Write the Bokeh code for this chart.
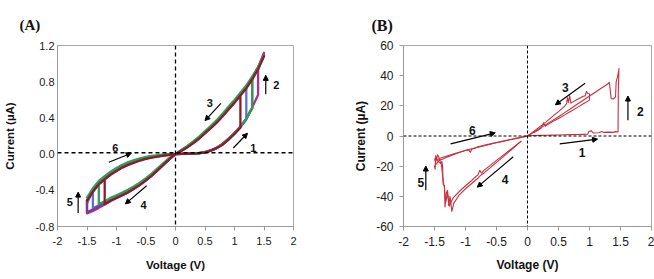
from bokeh.plotting import figure
from bokeh.models import Span, Arrow, NormalHead, Label, FixedTicker, Range1d
from bokeh.layouts import row
from bokeh.embed import file_html
from bokeh.resources import INLINE

# ---------------- Panel (A) data: voltage sweep grids ----------------
V_POS = [0.0, 0.1, 0.2, 0.3, 0.4, 0.5, 0.6, 0.7, 0.8, 0.9, 1.0, 1.1, 1.2, 1.3, 1.4, 1.5]
V_NEG = [0.0, -0.1, -0.2, -0.3, -0.4, -0.5, -0.6, -0.7, -0.8, -0.9, -1.0, -1.1, -1.2, -1.3, -1.4, -1.5]

# cycle 1 (magenta)
c1_hrs_pos = [0, .003, .004, .008, .011, .022, .043, .072, .115, .172, .236, .305, .392, .515, .655]
c1_lrs_pos = [0, .042, .085, .132, .186, .243, .305, .366, .437, .512, .588, .664, .748, .846, .958, 1.12]
c1_lrs_neg = [0, -.055, -.115, -.178, -.236, -.290, -.338, -.382, -.421, -.455, -.486, -.518, -.556, -.594, -.628, -.655]
c1_hrs_neg = [0, -.007, -.014, -.024, -.034, -.047, -.066, -.088, -.113, -.143, -.183, -.224, -.276, -.330, -.415, -.520]
# cycle 2 (blue)
c2_hrs_pos = [0, .002, .005, .006, .010, .019, .040, .068, .108, .165, .226, .296, .383]
c2_lrs_pos = [0, .038, .078, .127, .178, .236, .296, .357, .428, .505, .578, .655, .736, .838, .945, 1.09]
c2_lrs_neg = [0, -.048, -.107, -.168, -.226, -.278, -.326, -.368, -.405, -.436, -.466, -.496, -.532, -.566, -.598]
c2_hrs_neg = [0, -.006, -.013, -.022, -.032, -.045, -.062, -.084, -.108, -.138, -.176, -.216, -.268, -.318, -.398, -.545]
# cycle 3 (purple)
c3_hrs_pos = [0, .002, .003, .007, .012, .021, .038, .069, .112, .168, .232, .300, .390, .505]
c3_lrs_pos = [0, .041, .082, .130, .182, .240, .302, .362, .432, .510, .583, .660, .742, .842, .952, 1.10]
c3_lrs_neg = [0, -.052, -.111, -.172, -.232, -.284, -.332, -.373, -.412, -.446, -.476, -.506, -.545, -.580, -.612, -.640]
c3_hrs_neg = [0, -.006, -.013, -.023, -.033, -.046, -.064, -.086, -.110, -.140, -.180, -.220, -.272, -.324, -.406, -.512]
# cycle 4 (green)
c4_hrs_pos = [0, .002, .004, .006, .010, .020, .040, .070, .110, .170, .230, .300, .390, .510]
c4_lrs_pos = [0, .045, .090, .140, .193, .253, .313, .375, .447, .526, .598, .677, .757, .856, .962, 1.09]
c4_lrs_neg = [0, -.040, -.098, -.156, -.214, -.265, -.313, -.354, -.392, -.424, -.454, -.484, -.522, -.552]
c4_hrs_neg = [0, -.001, -.004, -.011, -.019, -.030, -.046, -.066, -.089, -.117, -.154, -.194, -.244, -.296, -.378, -.480]
# cycle 5 (dark red)
c5_hrs_pos = [0, .002, .004, .005, .009, .018, .038, .066, .104, .160, .222, .292]
c5_lrs_pos = [0, .036, .074, .120, .170, .228, .287, .348, .418, .494, .566, .648, .726, .826, .936, 1.08]
c5_lrs_neg = [0, -.054, -.116, -.177, -.238, -.291, -.340, -.381, -.421, -.454, -.485, -.515, -.553]
c5_hrs_neg = [0, -.008, -.016, -.027, -.038, -.052, -.071, -.094, -.119, -.149, -.188, -.228, -.280, -.334, -.416, -.515]

A_CYCLES = [
    (c1_hrs_pos, c1_lrs_pos, c1_lrs_neg, c1_hrs_neg, "#B02D90"),
    (c2_hrs_pos, c2_lrs_pos, c2_lrs_neg, c2_hrs_neg, "#5B72CC"),
    (c3_hrs_pos, c3_lrs_pos, c3_lrs_neg, c3_hrs_neg, "#7D3C9C"),
    (c4_hrs_pos, c4_lrs_pos, c4_lrs_neg, c4_hrs_neg, "#2F9E55"),
    (c5_hrs_pos, c5_lrs_pos, c5_lrs_neg, c5_hrs_neg, "#8E1B2C"),
]

A_XTICKS = [-2, -1.5, -1, -0.5, 0, 0.5, 1, 1.5, 2]
A_XLABELS = ["-2", "-1.5", "-1", "-0.5", "0", "0.5", "1", "1.5", "2"]
A_YTICKS = [-0.8, -0.4, 0.0, 0.4, 0.8, 1.2]
A_YLABELS = ["-0.8", "-0.4", "0.0", "0.4", "0.8", "1.2"]

# ---------------- Panel (B) data ----------------
b1_v = [0, 0.1, 0.2, 0.3, 0.4, 0.5, 0.6, 0.7, 0.8, 0.9, 0.97, 0.99, 1.03, 1.06, 1.15, 1.2, 1.23, 1.3, 1.38, 1.42,
        1.46, 1.465, 1.475, 1.47, 1.45, 1.43, 1.42, 1.39, 1.35, 1.335, 1.32, 1.30, 1.27, 1.2, 1.1, 1.0, 0.9, 0.8,
        0.7, 0.6, 0.5, 0.4, 0.3, 0.2, 0.1, 0.0]
b1_i = [0, 0.3, 0.4, 0.5, 0.6, 0.7, 0.8, 0.9, 1.0, 1.1, 1.2, 3.2, 3.4, 2.0, 2.2, 3.0, 2.4, 2.6, 2.4, 2.9,
        2.7, 30, 44.8, 43, 39, 36, 26, 24.6, 24.8, 30, 35.6, 34.8, 33.8, 32, 29.2, 26.5, 23.7, 21,
        18.2, 15.5, 12.8, 10.2, 7.7, 5.1, 2.5, 0]
b2_v = [-0.1, -0.2, -0.3, -0.4, -0.5, -0.6, -0.7, -0.76, -0.8, -0.9, -1.0, -1.1, -1.19, -1.22, -1.25, -1.27,
        -1.29, -1.31, -1.33, -1.34, -1.36, -1.37, -1.38, -1.40, -1.43, -1.45, -1.47, -1.48, -1.49, -1.50, -1.46,
        -1.42, -1.38, -1.3, -1.2, -1.1, -1.0, -0.9, -0.8, -0.7, -0.6, -0.5, -0.4, -0.3, -0.2, -0.1, 0]
b2_i = [-3.4, -7, -10.5, -14, -17.5, -21, -24.5, -26.3, -28, -31.5, -35, -39, -44.7, -50, -40, -46,
        -36, -38, -47, -33, -32, -20, -17, -18, -14, -12.5, -16, -13, -22, -20, -18,
        -16, -15.5, -14, -12.5, -11, -9.5, -8.5, -7.5, -6.5, -5.5, -4.5, -3.6, -2.7, -1.8, -0.9, 0]
b3_v = [0.1, 0.16, 0.22, 0.26, 0.29, 0.3, 0.4, 0.5, 0.6, 0.7, 0.8, 0.9, 1.0, 1.0, 0.97, 0.95, 0.93, 0.9, 0.8,
        0.7, 0.68, 0.66, 0.645, 0.63, 0.6, 0.5, 0.4, 0.3, 0.2, 0.1, 0]
b3_i = [2.2, 3.6, 5.2, 8.8, 6.5, 7.0, 9.4, 11.6, 14, 16.4, 18.8, 21.4, 23.8, 28, 28.2, 29.6, 26.6, 26.4, 24.2,
        21.8, 26.8, 22.2, 25.4, 21.4, 19.8, 16.2, 12.8, 9.4, 6.2, 3.1, 0]
b4_v = [-0.1, -0.2, -0.3, -0.4, -0.5, -0.6, -0.7, -0.74, -0.77, -0.8, -0.85, -0.9, -1.0, -1.1, -1.2, -1.26,
        -1.29, -1.32, -1.34, -1.36, -1.39, -1.44, -1.48, -1.5, -1.45, -1.4, -1.3, -1.2, -1.1, -1.0, -0.95,
        -0.92, -0.9, -0.85, -0.8, -0.7, -0.6, -0.5, -0.4, -0.3, -0.2, -0.1, 0]
b4_i = [-3.2, -6.5, -9.8, -13, -16.2, -19.5, -22.6, -24.6, -22.8, -25.8, -27.5, -29.5, -33, -36.8, -41, -46.5,
        -38, -44, -34, -30, -18.5, -17, -14, -16, -15.5, -14.6, -13.2, -12, -10.8, -9.6, -9.2,
        -10.8, -8.6, -8.2, -7.2, -6.2, -5.2, -4.3, -3.4, -2.5, -1.6, -0.8, 0]
B_SEGMENTS = [(b1_v, b1_i), (b2_v, b2_i), (b3_v, b3_i), (b4_v, b4_i)]

B_XTICKS = [-2, -1.5, -1, -0.5, 0, 0.5, 1, 1.5, 2]
B_XLABELS = ["-2", "-1.5", "-1", "-0.5", "0", "0.5", "1", "1.5", "2"]
B_YTICKS = [-60, -40, -20, 0, 20, 40, 60]
B_YLABELS = ["-60", "-40", "-20", "0", "20", "40", "60"]

SANS = "Liberation Sans"
SERIF = "Liberation Serif"


def build_cycle(hp, lp, ln, hn):
    k = len(hp) - 1
    m = len(ln) - 1
    v = V_POS[:k + 1] + V_POS[k:] + V_POS[::-1] + V_NEG[1:m + 1] + V_NEG[m:] + V_NEG[::-1]
    i = list(hp) + list(lp[k:]) + list(lp[::-1]) + list(ln[1:]) + list(hn[m:]) + list(hn[::-1])
    return v, i


def style_axes(p, xt, xl, yt, yl, tick_size, lab_size, ylab_standoff, xlab_standoff, ytick_out, ylab_so):
    p.xgrid.visible = False
    p.ygrid.visible = False
    p.outline_line_color = "#A8A8A8"
    p.outline_line_width = 1
    p.background_fill_color = "white"
    p.border_fill_color = "white"
    p.xaxis.ticker = FixedTicker(ticks=xt)
    p.yaxis.ticker = FixedTicker(ticks=yt)
    p.xaxis.major_label_overrides = dict(zip(xt, xl))
    p.yaxis.major_label_overrides = dict(zip(yt, yl))
    for ax in (p.xaxis[0], p.yaxis[0]):
        ax.axis_line_color = "#9A9A9A"
        ax.major_tick_line_color = "#9A9A9A"
        ax.minor_tick_line_color = None
        ax.major_tick_in = 0
        ax.major_label_text_font = SANS
        ax.major_label_text_font_size = tick_size
        ax.major_label_text_color = "#1A1A1A"
        ax.axis_label_text_font = SANS
        ax.axis_label_text_font_style = "bold"
        ax.axis_label_text_font_size = lab_size
        ax.axis_label_text_color = "#111111"
    p.xaxis.major_tick_out = 4
    p.yaxis.major_tick_out = ytick_out
    p.xaxis.major_label_standoff = 6
    p.yaxis.major_label_standoff = ylab_so
    p.xaxis.axis_label_standoff = xlab_standoff
    p.yaxis.axis_label_standoff = ylab_standoff


def add_arrow(p, x0, y0, x1, y1):
    p.add_layout(Arrow(end=NormalHead(size=5, fill_color="black", line_color="black", line_width=1),
                       x_start=x0, y_start=y0, x_end=x1, y_end=y1,
                       line_color="black", line_width=1.2))


def add_num(p, x, y, t, size="11px"):
    p.add_layout(Label(x=x, y=y, text=t, text_font=SANS, text_font_style="bold",
                       text_font_size=size, text_align="center", text_baseline="middle",
                       text_color="#111111"))


def set_title(p, text, size, offset, standoff):
    p.title.text = text
    p.title.text_font = SERIF
    p.title.text_font_style = "bold"
    p.title.text_font_size = size
    p.title.text_color = "#111111"
    p.title.align = "left"
    p.title.offset = offset
    p.title.standoff = standoff


# ---------------- Figure A ----------------
pa = figure(width=330, height=279, x_range=Range1d(-2, 2), y_range=Range1d(-0.8, 1.2),
            output_backend="svg", toolbar_location=None,
            min_border_left=55, min_border_right=37, min_border_top=45, min_border_bottom=53,
            x_axis_label="Voltage (V)", y_axis_label="Current (µA)")
style_axes(pa, A_XTICKS, A_XLABELS, A_YTICKS, A_YLABELS, "11px", "11.5px", 17, 11, 0, 3)
set_title(pa, "(A)", "15px", -38, 25)

for hp, lp, ln, hn, col in A_CYCLES:
    v, i = build_cycle(hp, lp, ln, hn)
    pa.line(v, i, line_color=col, line_width=2.3, line_join="round")

pa.add_layout(Span(location=0.015, dimension="width", line_color="black", line_dash="4 3", line_width=1.3))
pa.add_layout(Span(location=0, dimension="height", line_color="black", line_dash="4 3", line_width=1.3))

add_arrow(pa, 0.98, 0.067, 1.22, 0.23)
add_num(pa, 1.32, 0.07, "1")
add_arrow(pa, 1.53, 0.66, 1.53, 0.87)
add_num(pa, 1.71, 0.76, "2")
add_arrow(pa, 0.77, 0.56, 0.50, 0.37)
add_num(pa, 0.58, 0.57, "3")
add_arrow(pa, -0.49, -0.35, -0.85, -0.55)
add_num(pa, -0.54, -0.56, "4")
add_arrow(pa, -1.65, -0.65, -1.65, -0.42)
add_num(pa, -1.79, -0.53, "5")
add_arrow(pa, -1.13, -0.09, -0.75, 0.01)
add_num(pa, -1.02, 0.07, "6")

# ---------------- Figure B ----------------
pb = figure(width=324, height=279, x_range=Range1d(-2, 2), y_range=Range1d(-60, 60),
            output_backend="svg", toolbar_location=None,
            min_border_left=73, min_border_right=3, min_border_top=45, min_border_bottom=53,
            x_axis_label="Voltage (V)", y_axis_label="Current (µA)")
style_axes(pb, B_XTICKS, B_XLABELS, B_YTICKS, B_YLABELS, "12px", "12px", 5, 9, 4, 6)
set_title(pb, "(B)", "16px", -32, 24)

for v, i in B_SEGMENTS:
    pb.line(v, i, line_color="#C8303C", line_width=1.1, line_join="round")

pb.add_layout(Span(location=0, dimension="width", line_color="black", line_dash="3 2", line_width=1))
pb.add_layout(Span(location=0, dimension="height", line_color="black", line_dash="3 2", line_width=1))

add_arrow(pb, 0.52, -5.2, 1.13, -2.1)
add_num(pb, 0.88, -11.2, "1", "12px")
add_arrow(pb, 1.62, 10.4, 1.62, 26.5)
add_num(pb, 1.82, 16.2, "2", "12px")
add_arrow(pb, 0.93, 35, 0.45, 20.7)
add_num(pb, 0.61, 32.4, "3", "12px")
add_arrow(pb, -0.23, -13.8, -0.81, -33.9)
add_num(pb, -0.36, -29.1, "4", "12px")
add_arrow(pb, -1.64, -36, -1.64, -19.9)
add_num(pb, -1.72, -30.6, "5", "12px")
add_arrow(pb, -1.24, -5.2, -0.52, 2.1)
add_num(pb, -0.89, 3.4, "6", "12px")

layout = row(pa, pb)
open("out.html", "w").write(file_html(layout, INLINE))
